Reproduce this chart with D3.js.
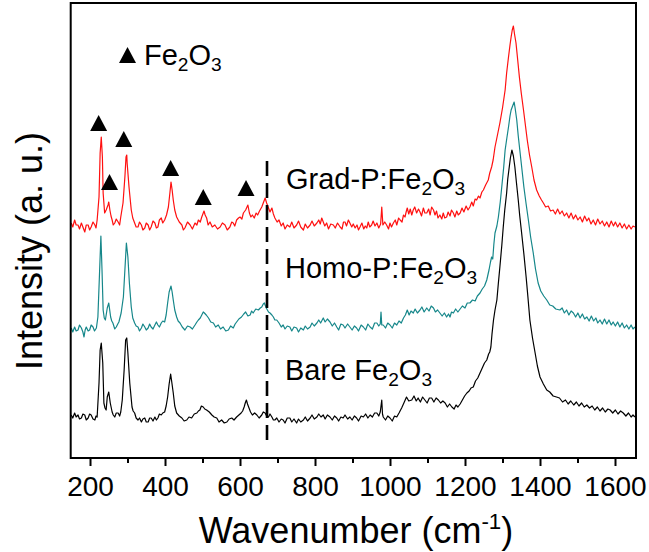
<!DOCTYPE html>
<html>
<head>
<meta charset="utf-8">
<script src="https://cdn.jsdelivr.net/npm/d3@7"></script>
<style>
  body { margin: 0; background: #fff; }
  svg { display: block; font-family: Arial, "Liberation Sans", sans-serif; }
</style>
</head>
<body>
<script>
// Raman spectra of three Fe2O3 photoanodes, offset for clarity
// each series is [wavenumber (cm-1), intensity (a.u., already stacked)]

var grad = [[150,235],[154,231],[159,238],[163,233],[168,233],[172,229],[177,235],[181,231],[186,226],[190,233],[195,233],[199,228],[203,231],[208,236],[213,233],[216,230],[219,238],[224,261],[227,305],[230,321],[233,301],[235,265],[239,245],[243,248],[248,253],[250,256],[253,248],[256,242],[259,238],[262,233],[266,235],[270,239],[275,236],[279,233],[282,241],[288,255],[293,281],[296,301],[298,303],[299,295],[304,271],[310,248],[314,240],[319,235],[323,231],[328,231],[332,236],[337,233],[341,228],[346,230],[350,235],[355,233],[359,228],[363,231],[368,237],[373,235],[377,230],[381,231],[385,238],[390,240],[394,235],[399,238],[404,243],[409,251],[413,265],[416,276],[419,268],[422,258],[426,248],[431,241],[438,236],[445,233],[449,228],[453,230],[460,236],[467,233],[473,229],[480,235],[485,233],[489,238],[494,236],[498,241],[501,244],[504,247],[507,243],[511,240],[515,233],[520,236],[526,231],[533,233],[540,229],[547,231],[553,235],[560,233],[566,228],[573,231],[578,236],[582,235],[586,232],[591,238],[596,240],[600,241],[605,239],[609,245],[615,248],[621,253],[625,245],[629,241],[633,243],[638,240],[643,245],[647,243],[652,247],[658,251],[663,256],[667,260],[671,255],[675,251],[680,246],[685,250],[689,244],[693,240],[699,236],[704,238],[710,232],[715,235],[720,229],[726,233],[733,231],[738,236],[744,230],[751,233],[756,237],[762,231],[769,228],[774,234],[780,230],[787,233],[792,237],[798,232],[805,235],[810,238],[814,234],[818,240],[822,236],[826,232],[831,235],[836,229],[842,234],[849,233],[854,230],[860,235],[867,231],[872,229],[876,236],[880,236],[884,232],[889,238],[893,235],[898,231],[902,234],[907,230],[912,233],[916,228],[920,231],[925,235],[930,229],[934,232],[938,230],[942,236],[946,231],[951,233],[955,237],[960,232],[965,235],[970,230],[975,234],[978,251],[981,233],[986,236],[991,233],[996,229],[1000,235],[1004,231],[1009,235],[1014,238],[1018,233],[1023,240],[1027,238],[1032,236],[1036,243],[1040,241],[1043,246],[1046,250],[1050,244],[1054,249],[1058,243],[1062,248],[1066,251],[1071,245],[1076,249],[1080,246],[1084,242],[1089,250],[1093,245],[1098,245],[1103,249],[1107,243],[1111,251],[1116,248],[1120,243],[1124,247],[1128,240],[1133,243],[1138,239],[1142,245],[1146,240],[1151,241],[1155,246],[1160,242],[1164,248],[1169,245],[1173,241],[1178,247],[1182,243],[1187,245],[1192,250],[1197,246],[1203,252],[1208,248],[1213,251],[1218,256],[1222,252],[1227,259],[1231,258],[1236,262],[1240,260],[1245,266],[1249,268],[1255,273],[1262,278],[1266,285],[1271,291],[1275,298],[1280,311],[1286,322],[1293,335],[1300,350],[1307,368],[1311,385],[1316,401],[1320,413],[1323,421],[1326,428],[1329,432],[1332,424],[1336,415],[1340,400],[1345,381],[1350,365],[1356,348],[1361,333],[1366,318],[1372,303],[1378,291],[1384,278],[1391,268],[1398,262],[1404,258],[1409,255],[1415,251],[1422,252],[1428,247],[1435,248],[1441,244],[1447,249],[1453,244],[1459,247],[1465,242],[1471,245],[1477,240],[1483,245],[1489,239],[1495,243],[1501,238],[1507,241],[1513,236],[1519,242],[1525,237],[1530,240],[1536,234],[1542,238],[1548,233],[1554,239],[1560,234],[1566,237],[1572,232],[1578,236],[1584,231],[1590,237],[1596,232],[1601,236],[1607,231],[1613,235],[1619,230],[1625,234],[1631,229],[1637,233],[1643,229],[1648,232],[1653,231]];

var homo = [[150,130],[154,126],[159,131],[163,127],[168,128],[172,133],[177,130],[181,126],[184,121],[187,128],[190,131],[195,127],[199,128],[203,133],[208,131],[212,127],[217,130],[221,141],[225,181],[229,222],[232,188],[235,148],[238,140],[241,138],[246,150],[250,155],[255,141],[258,137],[261,135],[266,129],[270,131],[274,134],[277,136],[283,145],[289,161],[293,188],[297,215],[301,201],[305,175],[310,151],[314,140],[319,135],[323,132],[328,131],[332,127],[337,130],[341,134],[346,131],[350,128],[355,130],[359,134],[363,131],[368,129],[373,133],[377,136],[381,133],[385,131],[390,135],[394,137],[399,136],[403,143],[407,155],[411,166],[416,172],[419,166],[422,158],[426,148],[431,141],[435,137],[440,135],[446,131],[453,128],[460,132],[467,131],[473,129],[480,133],[485,136],[489,138],[494,140],[498,143],[502,146],[505,145],[510,143],[516,140],[522,136],[529,135],[535,131],[542,133],[548,129],[555,131],[562,127],[569,128],[575,132],[582,130],[587,134],[591,136],[597,139],[604,141],[610,144],[615,146],[621,142],[627,143],[631,147],[635,145],[642,149],[649,148],[654,150],[658,151],[662,154],[665,155],[670,150],[676,146],[680,145],[685,143],[689,141],[693,138],[698,138],[704,135],[710,131],[715,133],[720,129],[726,132],[733,131],[738,127],[744,131],[751,130],[756,126],[762,130],[769,128],[774,132],[780,129],[787,131],[792,135],[798,132],[805,135],[810,138],[815,135],[822,140],[827,136],[833,139],[840,136],[846,132],[852,135],[858,131],[863,128],[869,134],[875,133],[880,130],[887,134],[893,131],[899,128],[905,132],[911,130],[916,127],[923,133],[929,131],[935,128],[941,134],[947,131],[953,129],[959,135],[965,135],[970,132],[974,134],[976,146],[978,133],[982,133],[988,130],[994,135],[1000,133],[1006,130],[1012,135],[1018,133],[1024,137],[1030,135],[1036,140],[1041,143],[1046,148],[1051,143],[1056,147],[1062,145],[1067,149],[1073,145],[1080,148],[1085,151],[1091,146],[1098,150],[1104,147],[1110,152],[1116,150],[1121,146],[1127,148],[1133,145],[1139,142],[1145,145],[1151,141],[1156,144],[1160,141],[1164,146],[1169,145],[1175,149],[1181,146],[1187,149],[1193,152],[1200,150],[1206,155],[1213,155],[1220,158],[1227,157],[1233,162],[1240,165],[1246,169],[1252,172],[1258,178],[1264,188],[1268,196],[1271,201],[1274,199],[1277,214],[1280,225],[1285,232],[1289,241],[1294,256],[1298,271],[1303,290],[1307,308],[1312,321],[1316,331],[1320,342],[1323,348],[1327,352],[1331,356],[1334,349],[1338,338],[1342,322],[1347,305],[1352,288],[1357,271],[1363,254],[1369,238],[1375,221],[1382,205],[1388,189],[1395,175],[1402,167],[1410,162],[1418,158],[1426,153],[1434,152],[1442,149],[1453,148],[1459,150],[1465,145],[1471,148],[1477,143],[1483,147],[1489,145],[1495,141],[1501,145],[1507,140],[1513,144],[1519,139],[1525,141],[1531,137],[1537,142],[1543,137],[1549,140],[1554,135],[1560,138],[1566,134],[1572,139],[1578,134],[1584,138],[1590,133],[1595,136],[1601,132],[1607,136],[1613,131],[1619,135],[1625,130],[1631,133],[1637,129],[1643,133],[1648,129],[1653,131]];

var bare = [[150,43],[154,40],[159,45],[163,41],[168,43],[172,39],[177,40],[181,44],[186,43],[190,38],[195,40],[199,44],[203,43],[208,39],[213,38],[216,42],[219,41],[224,75],[227,108],[230,115],[234,95],[237,55],[240,50],[243,48],[246,61],[250,66],[254,55],[259,46],[262,43],[266,41],[270,45],[275,45],[279,42],[282,46],[286,58],[291,88],[295,118],[298,120],[301,105],[306,75],[312,51],[315,47],[319,45],[323,40],[328,38],[332,40],[337,36],[341,39],[346,40],[350,36],[355,36],[359,40],[363,40],[368,37],[373,41],[377,38],[381,40],[385,44],[390,43],[394,45],[399,46],[403,52],[407,61],[411,74],[415,84],[418,76],[422,65],[426,52],[431,45],[438,42],[445,40],[451,37],[458,38],[464,41],[471,40],[478,44],[485,45],[489,47],[493,48],[497,52],[502,51],[506,49],[511,48],[518,46],[525,43],[531,41],[538,40],[544,36],[551,38],[558,35],[565,36],[571,39],[578,40],[584,38],[591,41],[597,43],[603,45],[607,47],[611,51],[614,55],[617,58],[620,54],[624,50],[628,46],[633,43],[639,45],[645,43],[651,40],[658,43],[662,46],[667,45],[671,42],[676,41],[680,44],[685,41],[689,38],[693,38],[698,40],[704,36],[710,39],[715,38],[720,35],[726,40],[733,40],[738,36],[744,39],[751,35],[756,39],[762,36],[769,38],[774,41],[780,37],[787,40],[792,43],[798,39],[805,41],[810,44],[816,41],[822,43],[827,39],[833,43],[840,41],[846,38],[852,42],[858,40],[863,37],[869,41],[875,40],[880,43],[887,39],[893,41],[899,38],[905,42],[911,40],[916,37],[923,42],[929,41],[935,44],[941,40],[947,43],[953,41],[959,45],[965,45],[970,42],[974,46],[976,52],[978,58],[980,44],[982,41],[988,38],[994,42],[1000,40],[1006,37],[1012,42],[1018,41],[1024,45],[1031,50],[1037,55],[1044,61],[1050,57],[1058,58],[1064,62],[1070,57],[1075,60],[1081,56],[1087,61],[1093,58],[1099,55],[1105,60],[1111,60],[1117,56],[1123,60],[1129,58],[1135,55],[1141,57],[1147,55],[1153,51],[1159,54],[1165,51],[1171,49],[1176,53],[1181,51],[1187,54],[1193,58],[1199,62],[1205,65],[1211,67],[1216,70],[1222,71],[1228,77],[1234,80],[1240,85],[1246,90],[1252,95],[1258,98],[1263,104],[1266,106],[1269,111],[1272,124],[1276,138],[1280,148],[1285,158],[1289,175],[1293,191],[1298,212],[1302,231],[1306,248],[1311,265],[1314,279],[1318,291],[1321,300],[1325,308],[1329,302],[1333,291],[1337,276],[1342,258],[1346,242],[1351,225],[1357,204],[1363,181],[1368,160],[1373,138],[1380,120],[1387,105],[1393,92],[1400,81],[1409,74],[1418,68],[1426,66],[1435,62],[1444,61],[1452,60],[1460,56],[1468,58],[1475,54],[1482,57],[1490,53],[1497,56],[1504,52],[1511,55],[1518,51],[1525,53],[1532,50],[1539,52],[1546,48],[1553,51],[1560,47],[1567,50],[1574,46],[1581,49],[1587,48],[1594,45],[1601,48],[1608,44],[1615,47],[1622,45],[1629,42],[1636,45],[1643,41],[1648,43],[1653,41]];

// Fe2O3 peak markers (wavenumber, height where the triangle sits)
var peakWn = [223, 252, 290, 415, 502, 616];
var peakI = [335, 276, 319, 290, 261, 270];

// dashed guide line
var guideWn = 672;
var guideI = [297, 13];

var majorTicks = [200, 400, 600, 800, 1000, 1200, 1400, 1600];
var minorTicks = [300, 500, 700, 900, 1100, 1300, 1500];

var width = 649;
var height = 552;
// note: "top" is taken by window.top, so plot edges get their own names
var plotL = 70.7, plotR = 636, plotT = 3, plotB = 458;

var svg = d3.select("body").append("svg")
    .attr("width", width)
    .attr("height", height);

var x = d3.scaleLinear().domain([148.5, 1656]).range([plotL, plotR]);
var y = d3.scaleLinear().domain([0, 455]).range([plotB, plotT]);

svg.append("clipPath").attr("id", "plot")
  .append("rect")
    .attr("x", plotL).attr("y", plotT)
    .attr("width", plotR - plotL).attr("height", plotB - plotT);

var line = d3.line()
    .x(function(d) { return x(d[0]); })
    .y(function(d) { return y(d[1]); });

var series = [
  { data: bare, color: "#000000" },
  { data: homo, color: "#16878a" },
  { data: grad, color: "#ff1010" }
];

svg.append("g").attr("clip-path", "url(#plot)")
  .selectAll("path.spec")
  .data(series)
  .enter()
  .append("path")
    .attr("class", "spec")
    .attr("d", function(d) { return line(d.data); })
    .attr("fill", "none")
    .attr("stroke", function(d) { return d.color; })
    .attr("stroke-width", 1.2)
    .attr("stroke-linejoin", "round");

// dashed vertical line
svg.append("line")
    .attr("x1", x(guideWn)).attr("x2", x(guideWn))
    .attr("y1", y(guideI[0])).attr("y2", y(guideI[1]))
    .attr("stroke", "#000")
    .attr("stroke-width", 2.6)
    .attr("stroke-dasharray", "15,7");

// triangles
var tri = "M0,-8L8.5,8L-8.5,8Z";
svg.selectAll("path.peak")
  .data(peakWn)
  .enter()
  .append("path")
    .attr("class", "peak")
    .attr("d", tri)
    .attr("transform", function(d, i) { return "translate(" + x(d) + "," + y(peakI[i]) + ")"; })
    .attr("fill", "#000");

// frame
svg.append("rect")
    .attr("x", plotL).attr("y", plotT)
    .attr("width", plotR - plotL).attr("height", plotB - plotT)
    .attr("fill", "none")
    .attr("stroke", "#000")
    .attr("stroke-width", 2);

// x axis, major + minor ticks
var xAxis = svg.append("g")
    .attr("transform", "translate(0," + plotB + ")")
    .call(d3.axisBottom(x).tickValues(majorTicks).tickSize(8).tickSizeOuter(0)
      .tickPadding(10).tickFormat(d3.format("d")));
xAxis.select(".domain").remove();
xAxis.selectAll(".tick line").attr("stroke-width", 2);
xAxis.selectAll("text")
    .attr("font-size", 28)
    .attr("font-family", "Arial, 'Liberation Sans', sans-serif")
    .attr("fill", "#000");

var xMinor = svg.append("g")
    .attr("transform", "translate(0," + plotB + ")")
    .call(d3.axisBottom(x).tickValues(minorTicks).tickSize(5).tickSizeOuter(0).tickFormat(""));
xMinor.select(".domain").remove();
xMinor.selectAll(".tick line").attr("stroke-width", 2);

// text with sub/superscripts
var richText = function(px, py, parts, size, rotate) {
  var t = svg.append("text")
      .attr("x", px).attr("y", py)
      .attr("font-size", size)
      .attr("fill", "#000");
  if (rotate) {
    t.attr("transform", "rotate(-90," + px + "," + py + ")").attr("text-anchor", "middle");
  }
  parts.forEach(function(p) {
    var s = t.append("tspan").text(p[0]);
    if (p[1] == "sub") {
      s.attr("font-size", size * 0.66).attr("dy", size * 0.2);
    } else if (p[1] == "sup") {
      s.attr("font-size", size * 0.62).attr("dy", -size * 0.38);
    } else if (p[1] == "back") {
      s.attr("dy", p[2]);
    }
  });
  return t;
};

var fs = 29;
var fe2o3 = function(prefix) {
  return [[prefix + "Fe"], ["2", "sub"], ["O", "back", -fs * 0.2], ["3", "sub"]];
};

richText(144, 65, fe2o3(""), fs);
svg.append("path")
    .attr("d", tri)
    .attr("transform", "translate(127.5,55)")
    .attr("fill", "#000");

richText(286, 189, fe2o3("Grad-P:"), fs);
richText(285, 278, fe2o3("Homo-P:"), fs);
richText(285, 380, fe2o3("Bare "), fs);

// axis titles
richText(356, 543, [["Wavenumber (cm"], ["-1", "sup"], [")", "back", 36 * 0.38]], 36)
    .attr("text-anchor", "middle");
richText(42, 251, [["Intensity (a. u.)"]], 36, true);
</script>
</body>
</html>
